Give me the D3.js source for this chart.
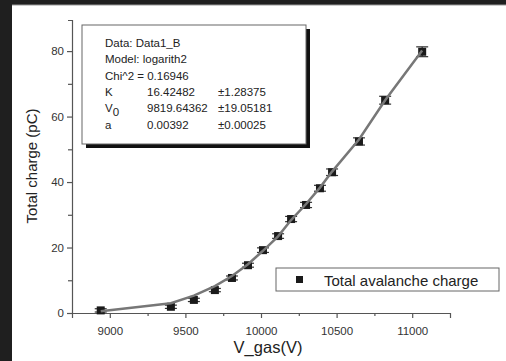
<!DOCTYPE html>
<html lang="en">
  <head>
    <meta charset="UTF-8" />
    <title>Total avalanche charge</title>
    <script src="https://d3js.org/d3.v7.min.js"></script>
    <style>
      body { margin: 0; background: #1f1f1f; }
      text { font-family: "Liberation Sans", Arial, sans-serif; }
    </style>
  </head>
  <body>
    <script>
      // data
      var vgas = [8940, 9404, 9556, 9695, 9808, 9914, 10013, 10113, 10199, 10298, 10390, 10470, 10648, 10821, 11066];
      var charge = [0.8, 1.9, 4.0, 7.0, 10.7, 14.6, 19.2, 23.5, 28.7, 33.0, 38.1, 43.0, 52.4, 65.0, 79.8];
      var err = [0.5, 0.5, 0.5, 0.5, 0.6, 0.6, 0.7, 0.7, 0.8, 0.8, 0.9, 1.0, 1.1, 1.2, 1.5];
      var fit = [0.5, 3.0, 5.3, 8.2, 11.3, 14.9, 19.0, 23.4, 28.4, 33.3, 38.3, 43.2, 53.0, 65.0, 80.2];

      var xTicks = [9000, 9500, 10000, 10500, 11000];
      var xMinor = [9250, 9750, 10250, 10750];
      var yTicks = [0, 20, 40, 60, 80];
      var yMinor = [10, 30, 50, 70];

      var infoLines = ["Data: Data1_B", "Model: logarith2", "Chi^2 = 0.16946"];
      var params = [
        ["K", "16.42482", "\u00b11.28375"],
        ["V0", "9819.64362", "\u00b119.05181"],
        ["a", "0.00392", "\u00b10.00025"]
      ];

      var w = 506, h = 361;
      var svg = d3.select("body").append("svg").attr("width", w).attr("height", h);

      // white slide area
      svg.append("rect").attr("x", 12).attr("y", 5).attr("width", w - 12).attr("height", h - 5).attr("fill", "#fff");
      svg.append("line").attr("x1", 12).attr("x2", w).attr("y1", 5).attr("y2", 5).attr("stroke", "#999");

      var x = d3.scaleLinear().domain([8750, 11250]).range([72, 450]);
      var y = d3.scaleLinear().domain([0, 89.5]).range([313, 20]);

      var axisColor = "#555";

      // x axis
      var gx = svg.append("g").attr("transform", "translate(0,313)");
      gx.call(d3.axisBottom(x).tickValues(xTicks).tickSize(5).tickSizeOuter(5).tickFormat(d3.format("")));
      gx.append("g").call(d3.axisBottom(x).tickValues(xMinor).tickSize(3).tickFormat(""))
        .select(".domain").remove();

      // y axis
      var gy = svg.append("g").attr("transform", "translate(72,0)");
      gy.call(d3.axisLeft(y).tickValues(yTicks).tickSize(5).tickSizeOuter(4));
      gy.append("g").call(d3.axisLeft(y).tickValues(yMinor).tickSize(4).tickFormat(""))
        .select(".domain").remove();

      svg.selectAll(".domain, .tick line").attr("stroke", axisColor).attr("stroke-width", 1.2);
      svg.selectAll(".tick text").attr("fill", "#333").attr("font-size", 11.5)
        .style("font-family", "Liberation Sans, Arial, sans-serif");
      gx.selectAll(".tick text").attr("dy", "1.25em");

      // axis titles
      svg.append("text").attr("x", 268).attr("y", 353).attr("text-anchor", "middle")
        .attr("font-size", 16.5).attr("fill", "#222").text("V_gas(V)");
      svg.append("text").attr("transform", "translate(37,166) rotate(-90)").attr("text-anchor", "middle")
        .attr("font-size", 15).attr("fill", "#222").text("Total charge (pC)");

      var pts = vgas.map(function (v, i) {
        return { v: v, c: charge[i], e: err[i], f: fit[i] };
      });

      // error bars
      var eb = svg.append("g").attr("stroke", "#333").attr("stroke-width", 1.2);
      eb.selectAll("line.v").data(pts).enter().append("line")
        .attr("x1", function (d) { return x(d.v); })
        .attr("x2", function (d) { return x(d.v); })
        .attr("y1", function (d) { return y(d.c + d.e); })
        .attr("y2", function (d) { return y(d.c - d.e); });
      eb.selectAll("line.t").data(pts).enter().append("line")
        .attr("x1", function (d) { return x(d.v) - 6; })
        .attr("x2", function (d) { return x(d.v) + 6; })
        .attr("y1", function (d) { return y(d.c + d.e); })
        .attr("y2", function (d) { return y(d.c + d.e); });
      eb.selectAll("line.b").data(pts).enter().append("line")
        .attr("x1", function (d) { return x(d.v) - 6; })
        .attr("x2", function (d) { return x(d.v) + 6; })
        .attr("y1", function (d) { return y(d.c - d.e); })
        .attr("y2", function (d) { return y(d.c - d.e); });

      // points
      svg.selectAll("rect.pt").data(pts).enter().append("rect")
        .attr("x", function (d) { return x(d.v) - 4; })
        .attr("y", function (d) { return y(d.c) - 4; })
        .attr("width", 8).attr("height", 8).attr("fill", "#1a1a1a");

      // fit curve
      svg.append("path").datum(pts)
        .attr("fill", "none").attr("stroke", "#777").attr("stroke-width", 2.5)
        .attr("d", d3.line().x(function (d) { return x(d.v); }).y(function (d) { return y(d.f); }));

      // info box
      var box = svg.append("g");
      box.append("rect").attr("x", 86).attr("y", 29).attr("width", 224).attr("height", 119).attr("fill", "#111");
      box.append("rect").attr("x", 82).attr("y", 25).attr("width", 224).attr("height", 119)
        .attr("fill", "#fff").attr("stroke", "#666").attr("stroke-width", 1);
      box.selectAll("text.l").data(infoLines).enter().append("text")
        .attr("x", 105).attr("y", function (d, i) { return 47 + i * 16.3; })
        .attr("font-size", 11.5).attr("fill", "#222").text(function (d) { return d; });
      params.forEach(function (p, i) {
        var yy = 96 + i * 16.3;
        var t = box.append("text").attr("x", 105).attr("y", yy).attr("font-size", 11.5).attr("fill", "#222");
        if (p[0] === "V0") {
          t.text("V");
          t.append("tspan").attr("dy", 4).text("0");
        } else {
          t.text(p[0]);
        }
        box.append("text").attr("x", 147).attr("y", yy).attr("font-size", 11.5).attr("fill", "#222").text(p[1]);
        box.append("text").attr("x", 218).attr("y", yy).attr("font-size", 11.5).attr("fill", "#222").text(p[2]);
      });

      // legend
      var lg = svg.append("g");
      lg.append("rect").attr("x", 276).attr("y", 268).attr("width", 223).attr("height", 23)
        .attr("fill", "#fff").attr("stroke", "#666").attr("stroke-width", 1);
      lg.append("rect").attr("x", 296).attr("y", 276).attr("width", 7).attr("height", 7).attr("fill", "#1a1a1a");
      lg.append("text").attr("x", 324).attr("y", 285.5).attr("font-size", 15).attr("fill", "#222")
        .text("Total avalanche charge");
    </script>
  </body>
</html>
